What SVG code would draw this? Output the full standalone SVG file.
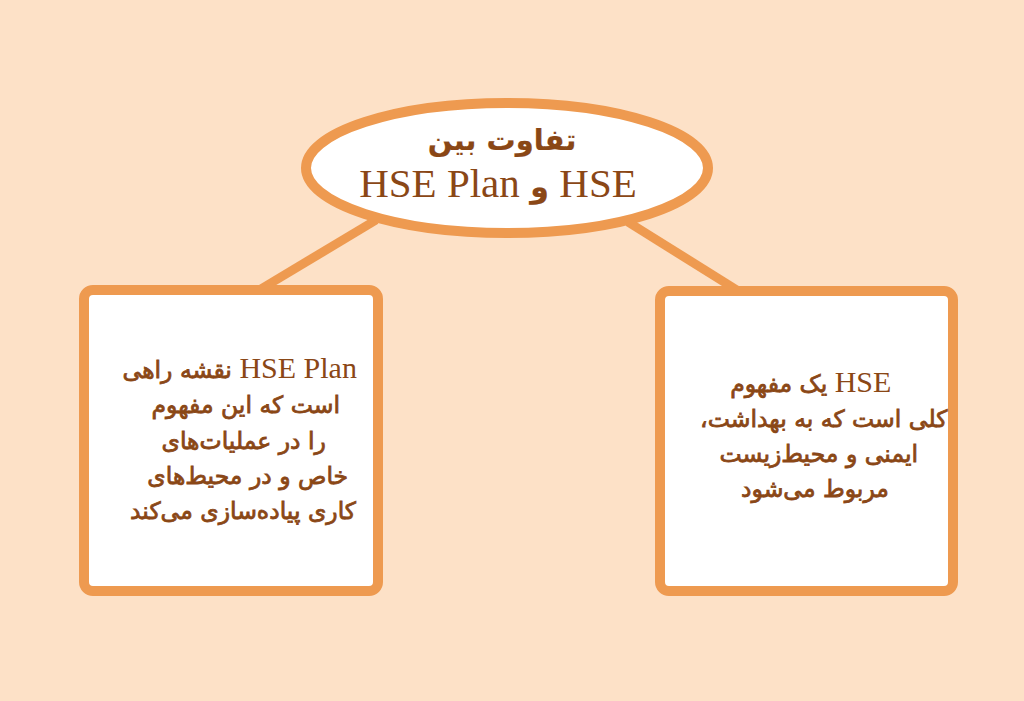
<svg xmlns="http://www.w3.org/2000/svg" width="1024" height="701" viewBox="0 0 1024 701">
<style>
.bg{fill:#FDE1C7}
.shape{fill:#FFFFFF;stroke:#EE9A50;stroke-width:10}
.conn{stroke:#EE9A50;stroke-width:9;fill:none}
.fa{font-family:"DejaVu Sans",sans-serif;font-weight:normal;fill:#8A4716;stroke:#8A4716;stroke-width:0.8}
.ttl{font-weight:bold;stroke-width:0.2}
.lat{font-family:"Liberation Serif",serif;font-weight:normal;stroke:none}
</style>
<rect class="bg" x="0" y="0" width="1024" height="701"/>
<g id="connectors">
<line class="conn" x1="376" y1="220" x2="256" y2="292"/>
<line class="conn" x1="628" y1="222" x2="740" y2="292"/>
</g>
<g id="title">
<ellipse class="shape" cx="507" cy="168" rx="201" ry="65" stroke-width="9"/>
<text class="fa ttl" x="502" y="150" font-size="29" text-anchor="middle" direction="rtl">تفاوت بین</text>
<text class="fa ttl" x="498" y="197" font-size="30" text-anchor="middle" direction="rtl"><tspan class="lat" font-size="41">HSE</tspan> و <tspan class="lat" font-size="41">HSE Plan</tspan></text>
</g>
<g id="left-box">
<rect class="shape" x="84" y="290" width="294" height="301" rx="9"/>
<text class="fa" font-size="23.5" text-anchor="middle" direction="rtl">
<tspan x="236" y="378"><tspan class="lat" font-size="30">HSE Plan</tspan> نقشه راهی</tspan>
<tspan x="242" y="413">است که این مفهوم</tspan>
<tspan x="240" y="449">را در عملیات‌های</tspan>
<tspan x="244" y="484">خاص و در محیط‌های</tspan>
<tspan x="243" y="519">کاری پیاده‌سازی می‌کند</tspan>
</text>
</g>
<g id="right-box">
<rect class="shape" x="660" y="291" width="293" height="300" rx="9"/>
<text class="fa" font-size="23.5" text-anchor="middle" direction="rtl">
<tspan x="807" y="392"><tspan class="lat" font-size="30">HSE</tspan> یک مفهوم</tspan>
<tspan x="820" y="427">کلی است که به بهداشت،</tspan>
<tspan x="815" y="462">ایمنی و محیط‌زیست</tspan>
<tspan x="815" y="497">مربوط می‌شود</tspan>
</text>
</g>
</svg>
